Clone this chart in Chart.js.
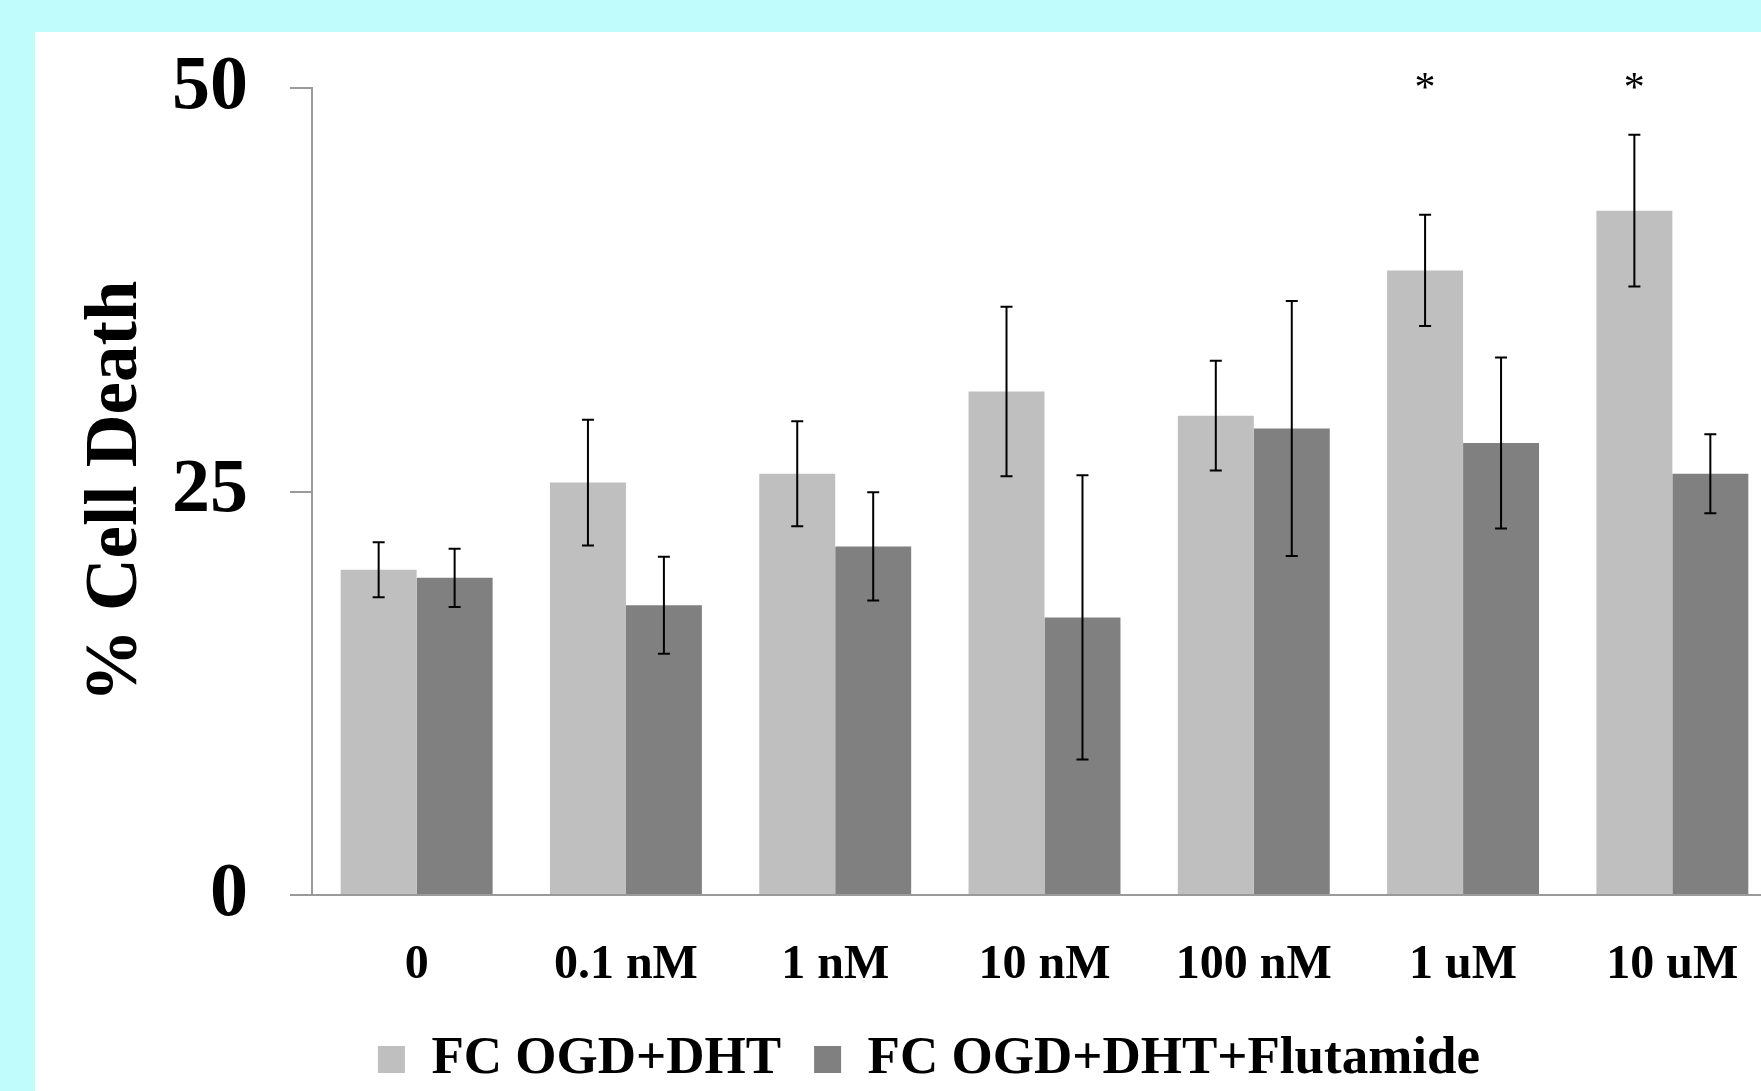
<!DOCTYPE html>
<html>
<head>
<meta charset="utf-8">
<script src="https://cdn.jsdelivr.net/npm/chart.js@4/dist/chart.umd.min.js"></script>
<style>
    html, body { margin: 0; padding: 0; overflow: hidden; background: #c0fcfc; width: 1761px; height: 1091px; }
    #panel { position: absolute; left: 35px; top: 32px; right: 0; bottom: 0; background: #fff; }
    #wrap { position: absolute; left: 0; top: 0; width: 1777px; height: 1096px; }
</style>
</head>
<body>
<div id="panel"></div>
<div id="wrap"><canvas id="chart"></canvas></div>
<script>
const labels = ['0', '0.1 nM', '1 nM', '10 nM', '100 nM', '1 uM', '10 uM'];
const dht = [20.15, 25.55, 26.1, 31.2, 29.7, 38.7, 42.4];
const dhtErr = [1.7, 3.9, 3.25, 5.25, 3.4, 3.45, 4.7];
const flut = [19.65, 17.95, 21.6, 17.2, 28.9, 28.0, 26.1];
const flutErr = [1.8, 3.0, 3.35, 8.8, 7.9, 5.3, 2.45];
const stars = ['', '', '', '', '', '*', '*'];
const yTicks = [0, 25, 50];

const serif = "'Liberation Serif', 'Times New Roman', serif";
const axisGrey = '#9a9a9a';

// error bars drawn on top of each bar
const errorBars = {
    id: 'errorBars',
    afterDatasetsDraw(chart) {
        const ctx = chart.ctx;
        const y = chart.scales.y;
        const errs = [dhtErr, flutErr];
        ctx.save();
        ctx.strokeStyle = '#000';
        ctx.lineWidth = 2;
        chart.data.datasets.forEach((ds, i) => {
            chart.getDatasetMeta(i).data.forEach((bar, j) => {
                const v = ds.data[j], e = errs[i][j];
                const hi = y.getPixelForValue(v + e), lo = y.getPixelForValue(v - e);
                ctx.beginPath();
                ctx.moveTo(bar.x, hi); ctx.lineTo(bar.x, lo);
                ctx.moveTo(bar.x - 6, hi); ctx.lineTo(bar.x + 6, hi);
                ctx.moveTo(bar.x - 6, lo); ctx.lineTo(bar.x + 6, lo);
                ctx.stroke();
            });
        });
        ctx.restore();
    }
};

// significance asterisks above the DHT bars
const starMarks = {
    id: 'starMarks',
    afterDraw(chart) {
        const ctx = chart.ctx;
        const meta = chart.getDatasetMeta(0);
        const cy = chart.chartArea.top - 7;
        ctx.save();
        ctx.font = '42px ' + serif;
        ctx.fillStyle = '#000';
        ctx.textAlign = 'center';
        stars.forEach((s, j) => {
            if (!s) return;
            const m = ctx.measureText(s);
            const base = cy + (m.actualBoundingBoxAscent - m.actualBoundingBoxDescent) / 2;
            ctx.fillText(s, meta.data[j].x, base);
        });
        ctx.restore();
    }
};

new Chart(document.getElementById('chart'), {
    type: 'bar',
    data: {
        labels: labels,
        datasets: [
            { label: 'FC OGD+DHT', data: dht, backgroundColor: '#bfbfbf' },
            { label: 'FC OGD+DHT+Flutamide', data: flut, backgroundColor: '#808080' }
        ]
    },
    options: {
        responsive: true,
        maintainAspectRatio: false,
        devicePixelRatio: 1,
        animation: false,
        categoryPercentage: 0.726,
        barPercentage: 1,
        layout: { padding: { left: 81, top: 88, right: 0, bottom: 0 } },
        plugins: {
            tooltip: { enabled: false },
            legend: {
                position: 'bottom',
                labels: {
                    color: '#000',
                    boxWidth: 27,
                    boxHeight: 27,
                    padding: 33,
                    font: { family: serif, size: 53, weight: 'bold' }
                }
            }
        },
        scales: {
            x: {
                afterFit(s) { s.height = 105; },
                grid: { display: false, drawTicks: false, tickLength: 0 },
                border: { display: true, color: axisGrey, width: 2 },
                ticks: {
                    color: '#000',
                    padding: 37,
                    font: { family: serif, size: 48, weight: 'bold', lineHeight: 1.4 }
                }
            },
            y: {
                min: 0,
                max: 50,
                afterFit(s) { s.width = 231; },
                afterBuildTicks(s) { s.ticks = yTicks.map(v => ({ value: v })); },
                grid: { drawOnChartArea: false, drawTicks: true, tickLength: 22, color: axisGrey, lineWidth: 2 },
                border: { display: true, color: axisGrey, width: 2 },
                ticks: {
                    color: '#000',
                    padding: 42,
                    font: { family: serif, size: 76, weight: 'bold', lineHeight: 1 }
                },
                title: {
                    display: true,
                    text: '% Cell Death',
                    color: '#000',
                    padding: 0,
                    font: { family: serif, size: 73, weight: 'bold', lineHeight: 1 }
                }
            }
        }
    },
    plugins: [errorBars, starMarks]
});
</script>
</body>
</html>
